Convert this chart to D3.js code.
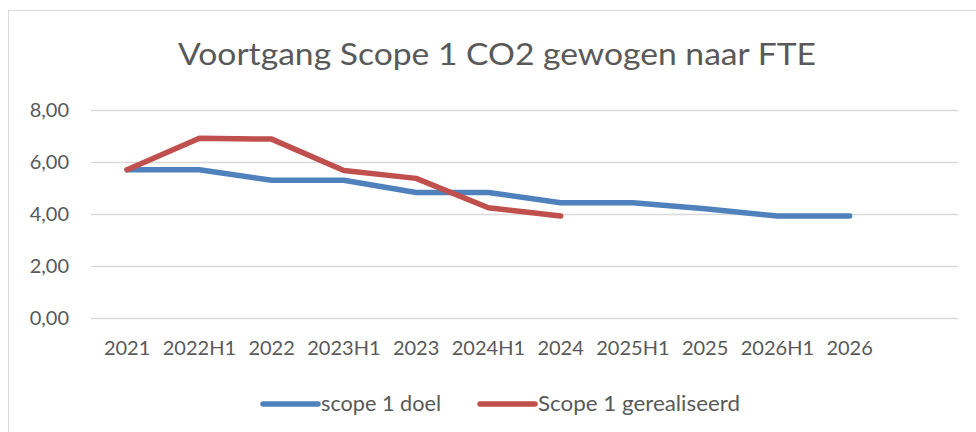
<!DOCTYPE html>
<html>
<head>
<meta charset="utf-8">
<script src="https://cdn.jsdelivr.net/npm/d3@7"></script>
<style>
    body { margin: 0; background: #fff; }
    text { font-family: Lato, "Open Sans", sans-serif; fill: #595959; }
</style>
</head>
<body>
<div id="chart"></div>
<script>
// data
let categories = ["2021", "2022H1", "2022", "2023H1", "2023", "2024H1", "2024", "2025H1", "2025", "2026H1", "2026", ""];
let doel = [5.7, 5.7, 5.3, 5.3, 4.83, 4.83, 4.43, 4.43, 4.2, 3.92, 3.92];
let gerealiseerd = [5.7, 6.91, 6.88, 5.67, 5.37, 4.24, 3.92];
let yTicks = [0, 2, 4, 6, 8];
let seriesNames = ["scope 1 doel", "Scope 1 gerealiseerd"];
let colors = ["#4f81bd", "#c0504d"];

let width = 976, height = 432;
let margin = {top: 110, right: 18, bottom: 114, left: 91};

let svg = d3.select("#chart").append("svg")
    .attr("width", width)
    .attr("height", height);

// chart frame (cut off at right and bottom)
svg.append("rect")
    .attr("x", 8.5).attr("y", 10.5)
    .attr("width", width).attr("height", height)
    .attr("fill", "none")
    .attr("stroke", "#d9d9d9");

svg.append("text")
    .attr("x", 497).attr("y", 65)
    .attr("text-anchor", "middle")
    .attr("font-size", 30)
    .attr("textLength", 638)
    .attr("lengthAdjust", "spacingAndGlyphs")
    .text("Voortgang Scope 1 CO2 gewogen naar FTE");

let x = d3.scaleBand()
    .domain(categories)
    .range([margin.left, width - margin.right]);

let y = d3.scaleLinear()
    .domain([0, 8])
    .range([height - margin.bottom, margin.top]);

let fmt = v => d3.format(".2f")(v).replace(".", ",");

// gridlines + y labels
let yAxis = d3.axisLeft(y)
    .tickValues(yTicks)
    .tickFormat(fmt)
    .tickSize(-(width - margin.right - margin.left))
    .tickPadding(22);

svg.append("g")
    .attr("class", "y-axis")
    .attr("transform", `translate(${margin.left}, 0)`)
    .call(yAxis)
    .call(g => g.select(".domain").remove())
    .call(g => g.selectAll(".tick line").attr("stroke", "#d9d9d9").attr("stroke-width", 1.3))
    .call(g => g.selectAll(".tick text").attr("font-size", 20).attr("fill", "#595959"));

let xAxis = d3.axisBottom(x)
    .tickSize(0)
    .tickPadding(23);

svg.append("g")
    .attr("class", "x-axis")
    .attr("transform", `translate(0, ${y(0)})`)
    .call(xAxis)
    .call(g => g.select(".domain").remove())
    .call(g => g.selectAll(".tick text").attr("font-size", 20).attr("fill", "#595959"));

let line = d3.line()
    .x((d, i) => x(categories[i]) + x.bandwidth() / 2)
    .y(d => y(d));

[doel, gerealiseerd].forEach((s, i) => {
    svg.append("path")
        .datum(s)
        .attr("fill", "none")
        .attr("stroke", colors[i])
        .attr("stroke-width", 5.5)
        .attr("stroke-linejoin", "round")
        .attr("stroke-linecap", "round")
        .attr("d", line);
});

// legend
let legendX = [263, 480];
let legendW = [120, 202];
let legend = svg.append("g").attr("transform", "translate(0, 404)");
seriesNames.forEach((name, i) => {
    legend.append("line")
        .attr("x1", legendX[i]).attr("x2", legendX[i] + 55)
        .attr("stroke", colors[i])
        .attr("stroke-width", 5.5)
        .attr("stroke-linecap", "round");
    legend.append("text")
        .attr("x", legendX[i] + 58)
        .attr("dy", "0.35em")
        .attr("font-size", 21)
        .attr("textLength", legendW[i])
        .attr("lengthAdjust", "spacingAndGlyphs")
        .text(name);
});
</script>
</body>
</html>
